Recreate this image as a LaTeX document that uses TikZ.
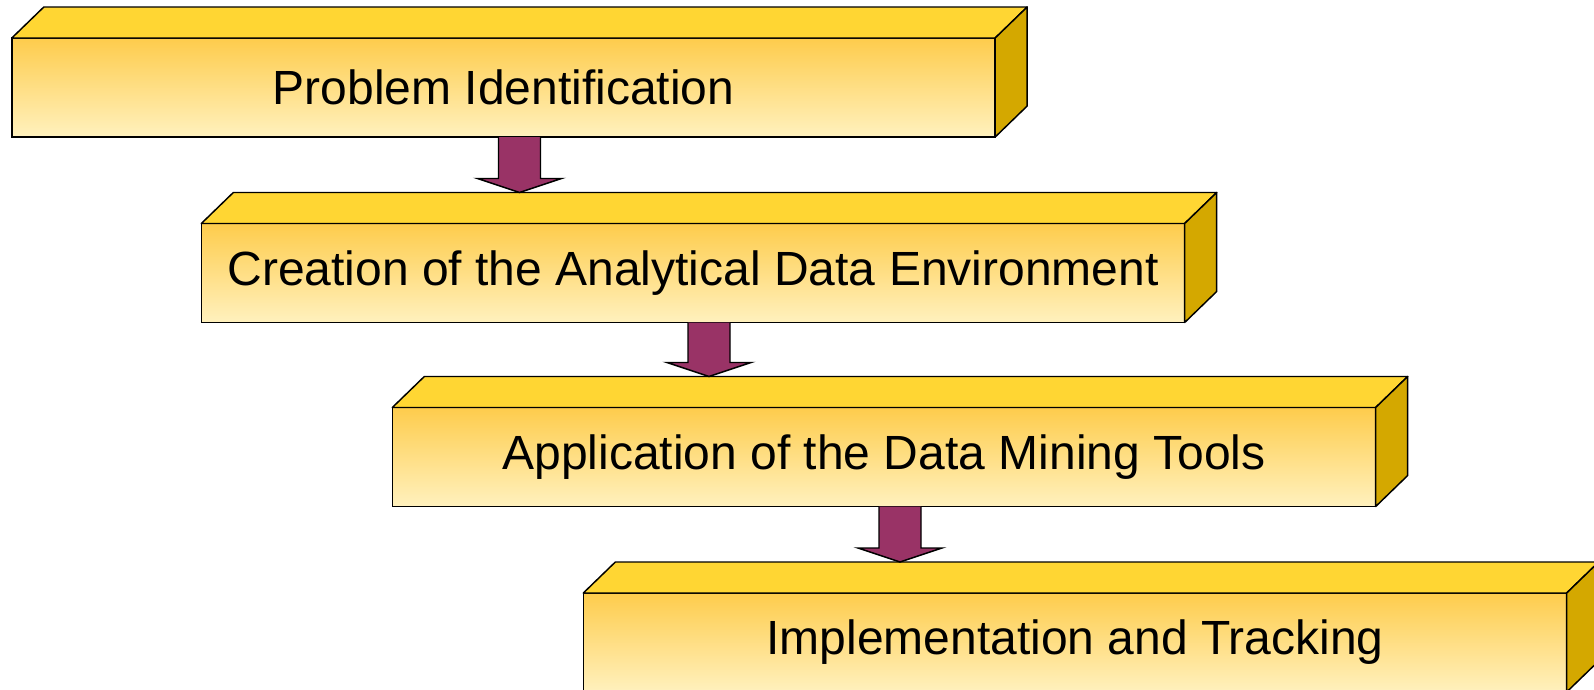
\documentclass[tikz,border=0pt]{standalone}
\usepackage{fontspec}
\setmainfont{Liberation Sans}
\usetikzlibrary{calc}
\definecolor{topc}{RGB}{255,214,51}
\definecolor{frontt}{RGB}{254,204,76}
\definecolor{frontb}{RGB}{255,241,190}
\definecolor{sidec}{RGB}{212,168,0}
\definecolor{arrowc}{RGB}{153,51,102}
\begin{document}
\begin{tikzpicture}[x=0.75pt,y=-0.75pt,
  front/.style={draw=black, line width=1.1pt, top color=frontt, bottom color=frontb,
    minimum width=737.5pt, minimum height=74.25pt, inner sep=0pt, outer sep=0pt,
    font=\fontsize{36}{40}\selectfont},
  topface/.style={draw=black, line width=1.1pt, fill=topc, line join=round},
  sideface/.style={draw=black, line width=1.1pt, fill=sidec, line join=round},
  flowarrow/.style={draw=black, line width=1.1pt, fill=arrowc, line join=miter}]
\useasboundingbox (0,0) rectangle (1594,689);
\clip (0,0) rectangle (1594,689);

\node[front] (b1) at (503.5,87.5) {Problem Identification};
\node[front] (b2) at (693,273) {Creation of the Analytical Data Environment};
\node[front] (b3) at (884,457) {Application of the Data Mining Tools};
\node[front] (b4) at (1075,642.5) {Implementation and Tracking};

\foreach \b in {b1,b2,b3,b4}{
  \draw[topface] (\b.north west) -- ++(32,-31) -- ($(\b.north east)+(32,-31)$) -- (\b.north east) -- cycle;
  \draw[sideface] (\b.north east) -- ++(32,-31) -- ($(\b.south east)+(32,-31)$) -- (\b.south east) -- cycle;
}

\foreach \a/\b in {b1/b2,b2/b3,b3/b4}{
  \coordinate (s) at ($(\a.south)+(16,0)$);
  \coordinate (t0) at ($(\b.north)+(0,-31)$);
  \coordinate (t) at (s |- t0);
  \filldraw[flowarrow] ($(s)+(-21,0)$) -- ($(t)+(-21,-14)$) -- ($(t)+(-42,-14)$) -- (t)
     -- ($(t)+(42,-14)$) -- ($(t)+(21,-14)$) -- ($(s)+(21,0)$);
}
\end{tikzpicture}
\end{document}
